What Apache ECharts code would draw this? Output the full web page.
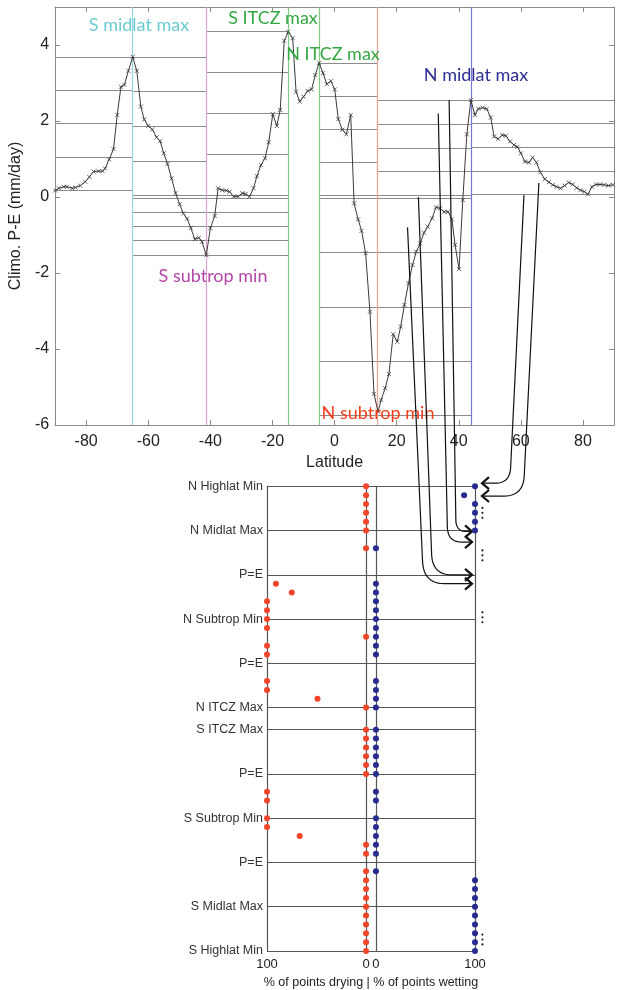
<!DOCTYPE html>
<html><head><meta charset="utf-8">
<script src="https://cdn.jsdelivr.net/npm/echarts@6/dist/echarts.min.js"></script>
<style>html,body{margin:0;padding:0;background:#fff}#c{width:618px;height:990px}</style>
</head><body><div id="c"></div>
<script>
// ---------- Data: top panel (climatological P-E vs latitude) ----------
const latitude = [-90,-88.8,-87.2,-86.2,-84.5,-83.5,-81.9,-80.3,-79,-77.6,-76,-74.7,-73.9,-72.6,-71.2,-70,-68.8,-67.7,-66.4,-65,
 -63.7,-62.4,-61.3,-60,-58.7,-57.3,-56.2,-55,-53.8,-52.5,-51.2,-49.9,-48.7,-47.5,-46.3,-45,-43.7,-42.7,-41.3,-40,
 -38.6,-37.5,-36.2,-34.9,-33.8,-32.5,-31.1,-29.7,-28.7,-27.4,-26.1,-25,-23.7,-22.4,-21.2,-19.9,-18.6,-17.5,-16.2,-14.9,
 -13.5,-12.4,-11.2,-10,-8.7,-7.4,-6.2,-5,-3.7,-2.5,-1.2,0.06,1.2,2.5,3.8,5.2,6.3,7.6,8.7,10,
 11.4,12.7,14,15,16.3,17.5,18.9,20.2,21.3,22.5,23.8,25.1,26.3,27.6,28.8,30,31.4,32.7,34,35.3,
 36.6,37.8,38.8,40.1,41.3,42.6,43.9,45.2,46.3,47.7,49,50.3,51.4,52.7,54,55.2,56.5,57.8,58.9,60,
 61.3,62.6,63.8,65,66.3,67.7,69,70.3,71.5,72.8,74.1,75.4,76.7,78,79.2,80.5,81.6,82.9,84.2,85.5,86.9,88.2,89.6];
const climoPE = [0.17,0.23,0.27,0.27,0.23,0.25,0.30,0.40,0.53,0.67,0.68,0.68,0.75,0.99,1.26,2.16,2.90,2.95,3.32,3.69,
 3.32,2.38,2.04,1.87,1.78,1.57,1.47,1.15,0.87,0.49,0.10,-0.19,-0.43,-0.57,-0.82,-1.11,-1.07,-1.18,-1.53,-0.82,
 -0.50,0.23,0.18,0.17,0.14,0.01,0.01,0.10,0.08,0.01,0.23,0.55,0.84,1.02,1.44,2.18,1.87,2.29,4.11,4.35,
 4.18,2.77,2.51,2.64,2.79,2.83,3.21,3.53,3.26,2.97,3.05,2.83,2.05,1.77,1.65,2.16,-0.17,-0.59,-0.89,-1.48,
 -3.02,-5.18,-5.65,-5.34,-5.03,-4.66,-3.61,-3.81,-3.41,-2.84,-2.27,-1.79,-1.44,-1.22,-0.94,-0.78,-0.56,-0.27,-0.30,-0.39,
 -0.39,-0.59,-1.26,-1.90,-0.08,1.65,2.55,2.16,2.32,2.35,2.32,2.09,1.59,1.53,1.63,1.61,1.46,1.37,1.32,1.15,
 0.93,0.91,1.04,0.91,0.65,0.47,0.39,0.32,0.27,0.23,0.30,0.38,0.33,0.24,0.18,0.14,0.07,0.27,0.33,0.33,0.32,0.30,0.32];
const latTicks = [-80,-60,-40,-20,0,20,40,60,80];
const peTicks = [-6,-4,-2,0,2,4];
const boundaryLats = [-65,-41.3,-14.9,-5,13.9,44];
const boundaryNames = ['S midlat max','S subtrop min','S ITCZ max','N ITCZ max','N subtrop min','N midlat max'];
// bin levels: [fromLat, toLat, levels]
const binFrom = [-90,-65,-41.3,-65,-5,-5,13.9,44];
const binTo   = [-65,-41.3,-14.9,-14.9,13.9,44,44,90];
const binLevels = [
 [0.17,1.05,1.93,2.81,3.69],
 [3.69,2.77,1.85,0.93,0.04],
 [4.35,3.27,2.20,1.12,0.04],
 [-0.04,-0.41,-0.78,-1.15,-1.52],
 [3.53,2.66,1.79,0.91,0.04],
 [-0.04,-1.46,-2.89,-4.31,-5.74],
 [2.55,1.92,1.29,0.67,0.04],
 [2.55,1.93,1.31,0.69,0.07]];

// ---------- Data: bottom panel ----------
const rowNames = ['N Highlat Min','N Midlat Max','P=E','N Subtrop Min','P=E','N ITCZ Max','S ITCZ Max','P=E','S Subtrop Min','P=E','S Midlat Max','S Highlat Min'];
const rowPos   = [0,5,10,15,20,25,27.5,32.5,37.5,42.5,47.5,52.5];
const dotRows = [0,1,2,3,4,5,7,11,12,13,14,15,16,17,18,19,22,23,24,25,27.5,28.5,29.5,30.5,31.5,32.5,34.5,35.5,37.5,38.5,39.5,40.5,41.5,43.5,44.5,45.5,46.5,47.5,48.5,49.5,50.5,51.5,52.5];
const dryingPct  = [0,0,0,0,0,0,0,91,75,100,100,100,100,0,100,100,100,100,49,0,0,0,0,0,0,0,100,100,100,100,67,0,0,0,0,0,0,0,0,0,0,0,0];
const wettingPct = [100,89,100,100,100,100,0,0,0,0,0,0,0,0,0,0,0,0,0,0,0,0,0,0,0,0,0,0,0,0,0,0,0,0,100,100,100,100,100,100,100,100,100];
const ellipsisRows = [3.0,7.8,14.8,51.2];
// arrows: start on the top curve [lat, P-E] -> target row on the bottom panel
const arrowStartLat = [23.5,27.0,33.4,36.9,61.0,65.8];
const arrowStartPE  = [-0.8,0.0,2.2,2.55,0.05,0.37];
const arrowTargetRow = [11.0,10.0,6.3,5.1,-0.35,1.1];

// ---------- styles ----------
const lineColors  = ['#92d7dd','#daa5d4','#84ca84','#84ca84','#f6a292','#7777da'];
const labelColors = ['#6ccbd2','#b545a8','#35a844','#35a844','#f23c1c','#2d2f92'];
const labelPos = [[139,25],[213,276],[273,18],[333,54],[378,413],[476,75]];
const arrowSlope = [0.045,0.037,0.022,0.016,-0.049,-0.05];
const arrowBend  = [22,20,14,10,15,20];

const chart = echarts.init(document.getElementById('c'), null, {renderer:'canvas'});
const sf = 'Liberation Sans, Arial, sans-serif';
const frame = {show:true, onZero:false, lineStyle:{color:'#8a8a8a', width:1}};
const tick = {show:true, inside:true, length:5, lineStyle:{color:'#8a8a8a'}};

const segs = [];
binLevels.forEach((lv,i)=>lv.forEach(v=>segs.push([{coord:[binFrom[i],v]},{coord:[binTo[i],v]}])));

const toDry = p => -(p + 5);
const toWet = p => p + 5;
const ellData = [];
ellipsisRows.forEach(r=>{ellData.push([112.5,r-0.56],[112.5,r],[112.5,r+0.56]);});

const option = {
  animation:false,
  grid:[{left:53, top:7, width:561, height:418},
        {left:267, top:486.3, width:208, height:464.7}],
  xAxis:[
    {gridIndex:0, type:'value', min:-90, max:90, position:'bottom', axisLine:frame,
     axisTick:Object.assign({customValues:latTicks}, tick),
     axisLabel:{customValues:latTicks, color:'#222', fontSize:16, fontFamily:sf, margin:9},
     splitLine:{show:false}, name:'Latitude', nameLocation:'middle', nameGap:30,
     nameTextStyle:{color:'#222', fontSize:16, fontFamily:sf}},
    {gridIndex:0, type:'value', min:-90, max:90, position:'top', axisLine:frame,
     axisTick:Object.assign({customValues:latTicks}, tick), axisLabel:{show:false}, splitLine:{show:false}},
    {gridIndex:1, type:'value', min:-105, max:105, axisLine:{show:false, onZero:false}, axisTick:{show:false},
     axisLabel:{customValues:[-105,-5,5,105], formatter:v=>String(Math.abs(v)-5), color:'#222', fontSize:13, fontFamily:sf, margin:7},
     splitLine:{show:false}, name:'% of points drying | % of points wetting', nameLocation:'middle', nameGap:25,
     nameTextStyle:{color:'#222', fontSize:12.5, fontFamily:sf}}
  ],
  yAxis:[
    {gridIndex:0, type:'value', min:-6, max:5, position:'left', axisLine:frame,
     axisTick:Object.assign({customValues:peTicks}, tick),
     axisLabel:{customValues:peTicks, color:'#222', fontSize:16, fontFamily:sf, margin:6},
     splitLine:{show:false}, name:'Climo. P-E (mm/day)', nameLocation:'middle', nameGap:28, nameRotate:90,
     nameTextStyle:{color:'#222', fontSize:16, fontFamily:sf}},
    {gridIndex:0, type:'value', min:-6, max:5, position:'right', axisLine:frame,
     axisTick:Object.assign({customValues:peTicks}, tick), axisLabel:{show:false}, splitLine:{show:false}},
    {gridIndex:1, type:'value', min:0, max:52.5, inverse:true, position:'left',
     axisLine:{show:true, onZero:false, lineStyle:{color:'#555', width:1.2}}, axisTick:{show:false},
     axisLabel:{customValues:rowPos, formatter:v=>rowNames[rowPos.indexOf(v)], color:'#333', fontSize:12.5, fontFamily:sf, margin:4},
     splitLine:{show:false}}
  ],
  series:[
    {type:'line', xAxisIndex:0, yAxisIndex:0, data:[], z:1,
     markLine:{silent:true, symbol:['none','none'], label:{show:false},
       lineStyle:{color:'#8c8c8c', width:1, type:'solid'}, data:segs}},
    {type:'line', xAxisIndex:0, yAxisIndex:0, data:[], z:2,
     markLine:{silent:true, symbol:['none','none'], label:{show:false},
       data:boundaryLats.map((v,i)=>({xAxis:v, lineStyle:{color:lineColors[i], width:1.2, type:'solid'}}))}},
    {type:'line', xAxisIndex:0, yAxisIndex:0, z:5,
     data:latitude.map((l,i)=>[l,climoPE[i]]),
     lineStyle:{color:'#3a3a3a', width:1},
     symbol:'path://M0,0L10,10M10,0L0,10', symbolSize:4, showSymbol:true,
     itemStyle:{color:'none', borderColor:'#3a3a3a', borderWidth:0.8}},
    {type:'line', xAxisIndex:2, yAxisIndex:2, data:[], z:1,
     markLine:{silent:true, symbol:['none','none'], label:{show:false},
       lineStyle:{color:'#555', width:1.2, type:'solid'},
       data:rowPos.map(r=>({yAxis:r})).concat([{xAxis:-5},{xAxis:5},{xAxis:105}])}},
    {type:'scatter', xAxisIndex:2, yAxisIndex:2, zlevel:1, z:4, symbolSize:6, clip:false,
     itemStyle:{color:'#f2452a', opacity:1}, data:dotRows.map((r,i)=>[toDry(dryingPct[i]), r])},
    {type:'scatter', xAxisIndex:2, yAxisIndex:2, zlevel:1, z:4, symbolSize:6, clip:false,
     itemStyle:{color:'#2a2b90', opacity:1}, data:dotRows.map((r,i)=>[toWet(wettingPct[i]), r])},
    {type:'scatter', xAxisIndex:2, yAxisIndex:2, zlevel:1, z:4, symbolSize:2.2, clip:false,
     itemStyle:{color:'#222', opacity:1}, data:ellData}
  ]
};
chart.setOption(option);

// ---------- annotations ----------
const graphics = [];
boundaryNames.forEach((n,i)=>{
  graphics.push({type:'text', x:labelPos[i][0], y:labelPos[i][1], z:20,
    style:{text:n, fill:labelColors[i], font:'18px Lato, "Open Sans", sans-serif', textAlign:'center', textVerticalAlign:'middle'}});
});
function quad(p0,c,p1,n){const pts=[];for(let k=1;k<=n;k++){const t=k/n,u=1-t;pts.push([u*u*p0[0]+2*u*t*c[0]+t*t*p1[0],u*u*p0[1]+2*u*t*c[1]+t*t*p1[1]]);}return pts;}
arrowStartLat.forEach((lat,i)=>{
  const S = chart.convertToPixel({gridIndex:0},[lat,arrowStartPE[i]]);
  const T = chart.convertToPixel({gridIndex:1},[105,arrowTargetRow[i]]);
  const right = arrowSlope[i] < 0; // arrow enters from the right side
  const r = arrowBend[i];
  const ty = T[1];
  const vy = ty - r;
  const vx = S[0] + arrowSlope[i]*(vy - S[1]);
  const dir = right ? -1 : 1;
  const tipX = right ? T[0] + 7 : T[0] - 3;
  const pts = [S,[vx,vy]].concat(quad([vx,vy],[vx+dir*1,ty],[vx+dir*r,ty],12));
  pts.push([tipX,ty]);
  graphics.push({type:'polyline', z:30, shape:{points:pts}, style:{stroke:'#111', lineWidth:1.2, fill:null}});
  graphics.push({type:'polyline', z:30, shape:{points:[[tipX-dir*7,ty-6],[tipX,ty],[tipX-dir*7,ty+6]]},
    style:{stroke:'#111', lineWidth:2.2, fill:null}});
});
chart.setOption({graphic:graphics});
</script></body></html>
